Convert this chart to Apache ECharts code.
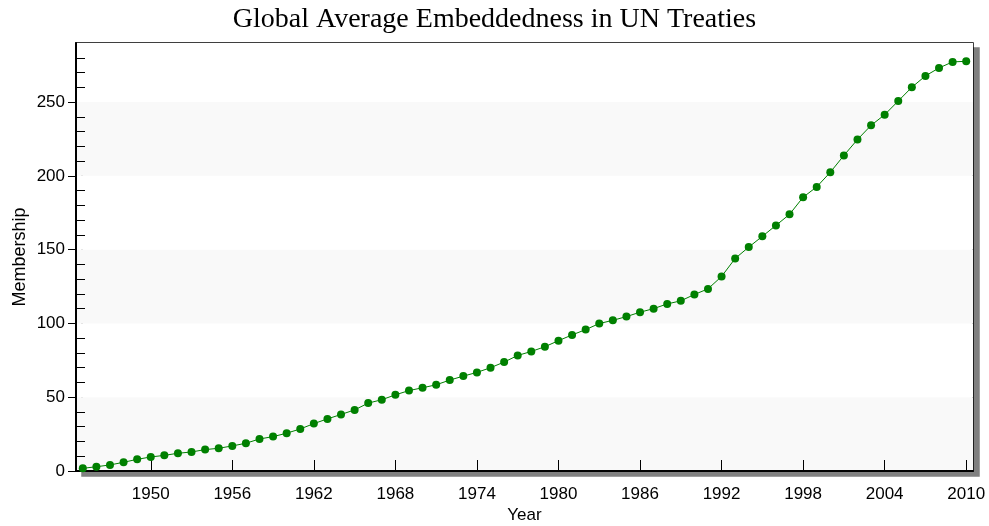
<!DOCTYPE html>
<html>
<head>
<meta charset="utf-8">
<title>Global Average Embeddedness in UN Treaties</title>
<script src="https://cdn.jsdelivr.net/npm/echarts@6/dist/echarts.min.js"></script>
<style>
  html, body { margin: 0; padding: 0; background: #fff; }
  #chart { width: 989px; height: 526px; }
</style>
</head>
<body>
<div id="chart"></div>
<script>
// Years covered by the series (one point per year)
const years = [
  1945, 1946, 1947, 1948, 1949, 1950, 1951, 1952, 1953, 1954,
  1955, 1956, 1957, 1958, 1959, 1960, 1961, 1962, 1963, 1964,
  1965, 1966, 1967, 1968, 1969, 1970, 1971, 1972, 1973, 1974,
  1975, 1976, 1977, 1978, 1979, 1980, 1981, 1982, 1983, 1984,
  1985, 1986, 1987, 1988, 1989, 1990, 1991, 1992, 1993, 1994,
  1995, 1996, 1997, 1998, 1999, 2000, 2001, 2002, 2003, 2004,
  2005, 2006, 2007, 2008, 2009, 2010
];

// Average treaty membership per year
const membership = [
  1.8, 2.9, 4.1, 5.9, 7.9, 9.5, 10.6, 12.0, 12.9, 14.5,
  15.4, 17.0, 18.8, 21.7, 23.3, 25.6, 28.5, 32.1, 35.3, 38.3,
  41.4, 46.0, 48.3, 51.6, 54.5, 56.4, 58.4, 61.6, 64.3, 66.8,
  70.0, 73.8, 78.3, 81.0, 84.2, 88.3, 92.2, 95.8, 99.9, 102.1,
  104.6, 107.6, 110.0, 113.2, 115.3, 119.6, 123.4, 131.8, 144.0, 151.7,
  159.0, 166.4, 173.9, 185.5, 192.5, 202.4, 213.8, 224.6, 234.2, 241.4,
  250.7, 260.0, 267.7, 273.1, 277.2, 277.6
];

// Labelled years on the x axis
const yearTicks = [1950, 1956, 1962, 1968, 1974, 1980, 1986, 1992, 1998, 2004, 2010];

// Y axis range, labelled step and minor step
const yMin = 0;
const yMax = 290;
const yStep = 50;
const yMinorStep = 10;
const minorTickValues = [10, 20, 30, 40, 60, 70, 80, 90, 110, 120, 130, 140,
  160, 170, 180, 190, 210, 220, 230, 240, 260, 270, 280];

const sans = 'Liberation Sans, Arial, sans-serif';
const serif = 'Liberation Serif, Times New Roman, serif';

const chart = echarts.init(document.getElementById('chart'), null, { renderer: 'canvas' });

const isYearTick = (index, value) => yearTicks.indexOf(Number(value)) !== -1;

chart.setOption({
  animation: false,
  backgroundColor: '#ffffff',
  title: {
    text: 'Global Average Embeddedness in UN Treaties',
    left: 'center',
    top: 1,
    textStyle: { fontFamily: serif, fontSize: 28, fontWeight: 'normal', color: '#000' }
  },
  grid: {
    left: 76,
    right: 16,
    top: 43,
    bottom: 55,
    outerBoundsMode: 'none',
    containLabel: false,
    show: true,
    backgroundColor: '#ffffff',
    borderColor: '#000',
    borderWidth: 1.5,
    shadowColor: '#808080',
    shadowBlur: 0,
    shadowOffsetX: 6,
    shadowOffsetY: 5
  },
  xAxis: {
    type: 'category',
    data: years.map(String),
    boundaryGap: true,
    name: 'Year',
    nameLocation: 'middle',
    nameGap: 36,
    nameMoveOverlap: false,
    nameTextStyle: { fontFamily: sans, fontSize: 17, color: '#000' },
    axisLine: { show: true, lineStyle: { color: '#000', width: 2 } },
    axisTick: {
      show: true,
      inside: true,
      length: 11,
      alignWithLabel: true,
      interval: isYearTick,
      lineStyle: { color: '#000', width: 1 }
    },
    axisLabel: {
      interval: isYearTick,
      margin: 15,
      fontFamily: sans,
      fontSize: 17,
      color: '#000'
    },
    splitLine: { show: false }
  },
  yAxis: [
    {
      type: 'value',
      min: yMin,
      max: yMax,
      interval: yStep,
      name: 'Membership',
      nameLocation: 'middle',
      nameGap: 47,
      nameMoveOverlap: false,
      nameTextStyle: { fontFamily: sans, fontSize: 18, color: '#000' },
      axisLine: { show: true, lineStyle: { color: '#000', width: 2 } },
      axisTick: { show: true, inside: false, length: 8, lineStyle: { color: '#000', width: 1 } },
      axisLabel: {
        showMaxLabel: false,
        margin: 11,
        fontFamily: sans,
        fontSize: 17,
        color: '#000'
      },
      splitLine: { show: false },
      splitArea: { show: true, areaStyle: { color: ['#f9f9f9', '#ffffff'] } }
    },
    {
      type: 'value',
      min: yMin,
      max: yMax,
      interval: yMinorStep,
      position: 'left',
      axisLine: { show: false },
      axisTick: {
        show: true,
        inside: true,
        length: 9,
        customValues: minorTickValues,
        lineStyle: { color: '#000', width: 1 }
      },
      axisLabel: { show: false },
      splitLine: { show: false },
      splitArea: { show: false }
    }
  ],
  series: [
    {
      type: 'line',
      name: 'Membership',
      xAxisIndex: 0,
      yAxisIndex: 0,
      data: membership,
      symbol: 'circle',
      symbolSize: 8,
      showSymbol: true,
      lineStyle: { color: '#008000', width: 1 },
      itemStyle: { color: '#008000' },
      z: 3
    }
  ]
});
</script>
</body>
</html>
